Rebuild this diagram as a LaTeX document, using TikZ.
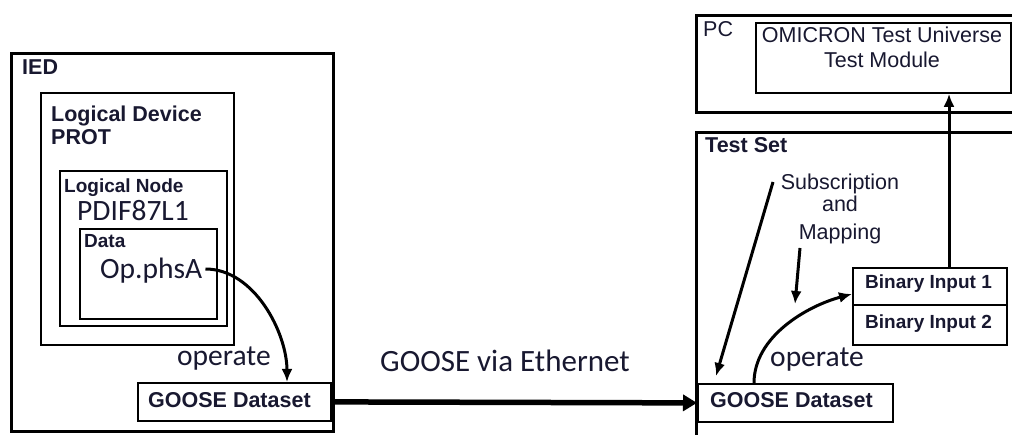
\documentclass[tikz,border=0pt]{standalone}
\usepackage{fontspec}
\setmainfont{Liberation Sans}
\newfontfamily\carl{Carlito}
\usetikzlibrary{arrows.meta}
\definecolor{ink}{RGB}{24,24,48}

\begin{document}
\begin{tikzpicture}[x=1pt,y=-1pt,
  every node/.style={text=ink},
  outerbox/.style={draw, line width=3.4pt, inner sep=0pt, anchor=north west},
  innerbox/.style={draw, line width=1.8pt, inner sep=0pt, anchor=north west},
  lbl/.style={inner sep=0pt, anchor=base west, font=\fontsize{21.5}{24}\selectfont},
  lblb/.style={lbl, font=\fontsize{21.5}{24}\selectfont\bfseries},
  lblsb/.style={lbl, font=\fontsize{19}{22}\selectfont\bfseries},
  lblc/.style={lbl, font=\carl\fontsize{29.5}{32}\selectfont},
  conn/.style={line width=3pt, -{Latex[length=13pt,width=11pt]}},
  bus/.style={line width=5.5pt, -{Triangle[length=14pt,width=16pt]}}]
\useasboundingbox (0,0) rectangle (1012,435);
\clip (0,0) rectangle (1012,435);

% ---- IED side ----
\node[outerbox, minimum width=322pt, minimum height=378pt] (ied) at (10,52) {};
\node[innerbox, minimum width=193pt, minimum height=252pt] (ld) at (40,92) {};
\node[innerbox, minimum width=167pt, minimum height=155pt] (ln) at (59,170) {};
\node[innerbox, minimum width=137pt, minimum height=90pt] (data) at (79,228) {};
\node[innerbox, minimum width=193pt, minimum height=38pt] (gdl) at (137,382) {};

\node[lblb] (tied) at (22,75) {IED};
\node[lblb] (tld) at (51,122) {Logical Device};
\node[lblb] (tprot) at (51,145) {PROT};
\node[lblsb] (tln) at (64,193) {Logical Node};
\node[lblc] (tpdif) at (77,221) {PDIF87L1};
\node[lblsb] (tdata) at (84,248) {Data};
\node[lblc] (op) at (100,279) {Op.phsA};
\node[lblc] (topl) at (177,366) {operate};
\node[lblb] (tgdl) at (148,408) {GOOSE Dataset};

% ---- PC and test set ----
\node[outerbox, minimum width=340pt, minimum height=97pt] (pc) at (695,14) {};
\node[innerbox, minimum width=255pt, minimum height=70pt] (omi) at (755,22) {};
\node[outerbox, minimum width=340pt, minimum height=330pt] (ts) at (695,131) {};
\node[innerbox, minimum width=154pt, minimum height=37pt] (bi1) at (852,267) {};
\node[innerbox, minimum width=154pt, minimum height=40pt] (bi2) at (852,304) {};
\node[innerbox, minimum width=195pt, minimum height=38pt] (gdr) at (697,383) {};

\node[lbl] (tpc) at (703,37) {PC};
\node[lbl, anchor=base] (tomi1) at (882,43) {OMICRON Test Universe};
\node[lbl, anchor=base] (tomi2) at (882,68) {Test Module};
\node[lblb] (tts) at (705,153) {Test Set};
\node[lbl, anchor=base] (sub) at (840,190) {Subscription};
\node[lbl, anchor=base] (tand) at (840,212) {and};
\node[lbl, anchor=base] (map) at (840,240) {Mapping};
\node[lblsb] (tbi1) at (865,289) {Binary Input 1};
\node[lblsb] (tbi2) at (865,329) {Binary Input 2};
\node[lblc] (topr) at (770,367) {operate};
\node[lblb] (tgdr) at (710,408) {GOOSE Dataset};

% ---- network label ----
\node[lblc, font=\carl\fontsize{31}{34}\selectfont] (eth) at (380,372) {GOOSE via Ethernet};

% ---- connectors ----
\coordinate (tapl) at (287,0);
\coordinate (tapr) at (754,0);
\coordinate (tapu) at (949,0);
\coordinate (subs) at (773,182);
\coordinate (subt) at (716,376);
\coordinate (maps) at (800,248);
\coordinate (mapt) at (795,304);
\coordinate (bin) at (852,294);

\draw[conn] ([xshift=3pt]op.east |- 0,269) to[out=0,in=90,looseness=0.9] (gdl.north -| tapl);
\draw[bus] (gdl.east) -- (gdr.west);
\draw[conn] (gdr.north -| tapr) to[out=90,in=195,looseness=0.9] (bin);
\draw[conn] (bi1.north -| tapu) -- (omi.south -| tapu);
\draw[conn] (subs) -- (subt);
\draw[conn] (maps) -- (mapt);
\end{tikzpicture}
\end{document}
